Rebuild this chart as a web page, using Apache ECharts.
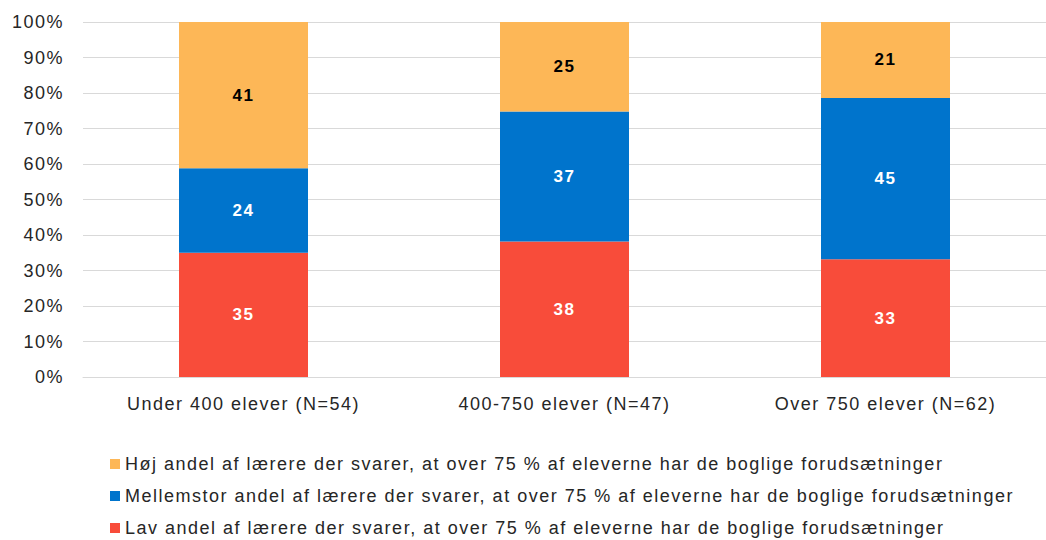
<!DOCTYPE html>
<html><head><meta charset="utf-8">
<script src="https://cdn.jsdelivr.net/npm/echarts@6/dist/echarts.min.js"></script>
<style>html,body{margin:0;padding:0;background:#fff}#c{width:1046px;height:540px}#c text{letter-spacing:1.5px}</style>
</head><body><div id="c"></div>
<script>
const categories = ['Under 400 elever (N=54)', '400-750 elever (N=47)', 'Over 750 elever (N=62)'];
const lav = [35.0, 38.2, 33.2];
const mellem = [23.8, 36.6, 45.4];
const hoj = [41.2, 25.2, 21.4];
const yTicks = [0, 10, 20, 30, 40, 50, 60, 70, 80, 90, 100];
const names = [
  'Lav andel af lærere der svarer, at over 75 % af eleverne har de boglige forudsætninger',
  'Mellemstor andel af lærere der svarer, at over 75 % af eleverne har de boglige forudsætninger',
  'Høj andel af lærere der svarer, at over 75 % af eleverne har de boglige forudsætninger'
];
const font = '"Liberation Sans", Arial, sans-serif';
const chart = echarts.init(document.getElementById('c'), null, { renderer: 'svg' });
function ser(name, data, color, labelColor) {
  return {
    name, type: 'bar', stack: 's', data, barWidth: 129,
    itemStyle: { color },
    label: { show: true, position: 'inside', color: labelColor, fontWeight: 'bold', fontSize: 17, fontFamily: font,
      formatter: p => Math.round(p.value) }
  };
}
chart.setOption({
  animation: false,
  textStyle: { fontFamily: font },
  grid: { left: 83, width: 972, top: 22, bottom: 163 },
  legend: {
    orient: 'vertical', left: 110, top: 455, height: 120, padding: 0, itemGap: 14, itemWidth: 10, itemHeight: 10,
    icon: 'rect',
    data: [names[2], names[1], names[0]],
    textStyle: { fontSize: 18, color: '#262626', fontFamily: font }
  },
  xAxis: {
    type: 'category', data: categories,
    axisLine: { lineStyle: { color: '#d9d9d9', width: 1 } },
    axisTick: { show: false },
    axisLabel: { fontSize: 18, color: '#262626', margin: 18, fontFamily: font }
  },
  yAxis: {
    type: 'value', min: yTicks[0], max: yTicks[yTicks.length - 1], interval: 10,
    axisLine: { show: false }, axisTick: { show: false },
    splitLine: { lineStyle: { color: '#d9d9d9', width: 1 } },
    axisLabel: { fontSize: 18, color: '#262626', margin: 19, fontFamily: font, formatter: v => v + '%' }
  },
  series: [
    ser(names[0], lav, '#f84c3a', '#ffffff'),
    ser(names[1], mellem, '#0074cc', '#ffffff'),
    ser(names[2], hoj, '#fdb757', '#000000')
  ]
});
</script></body></html>
